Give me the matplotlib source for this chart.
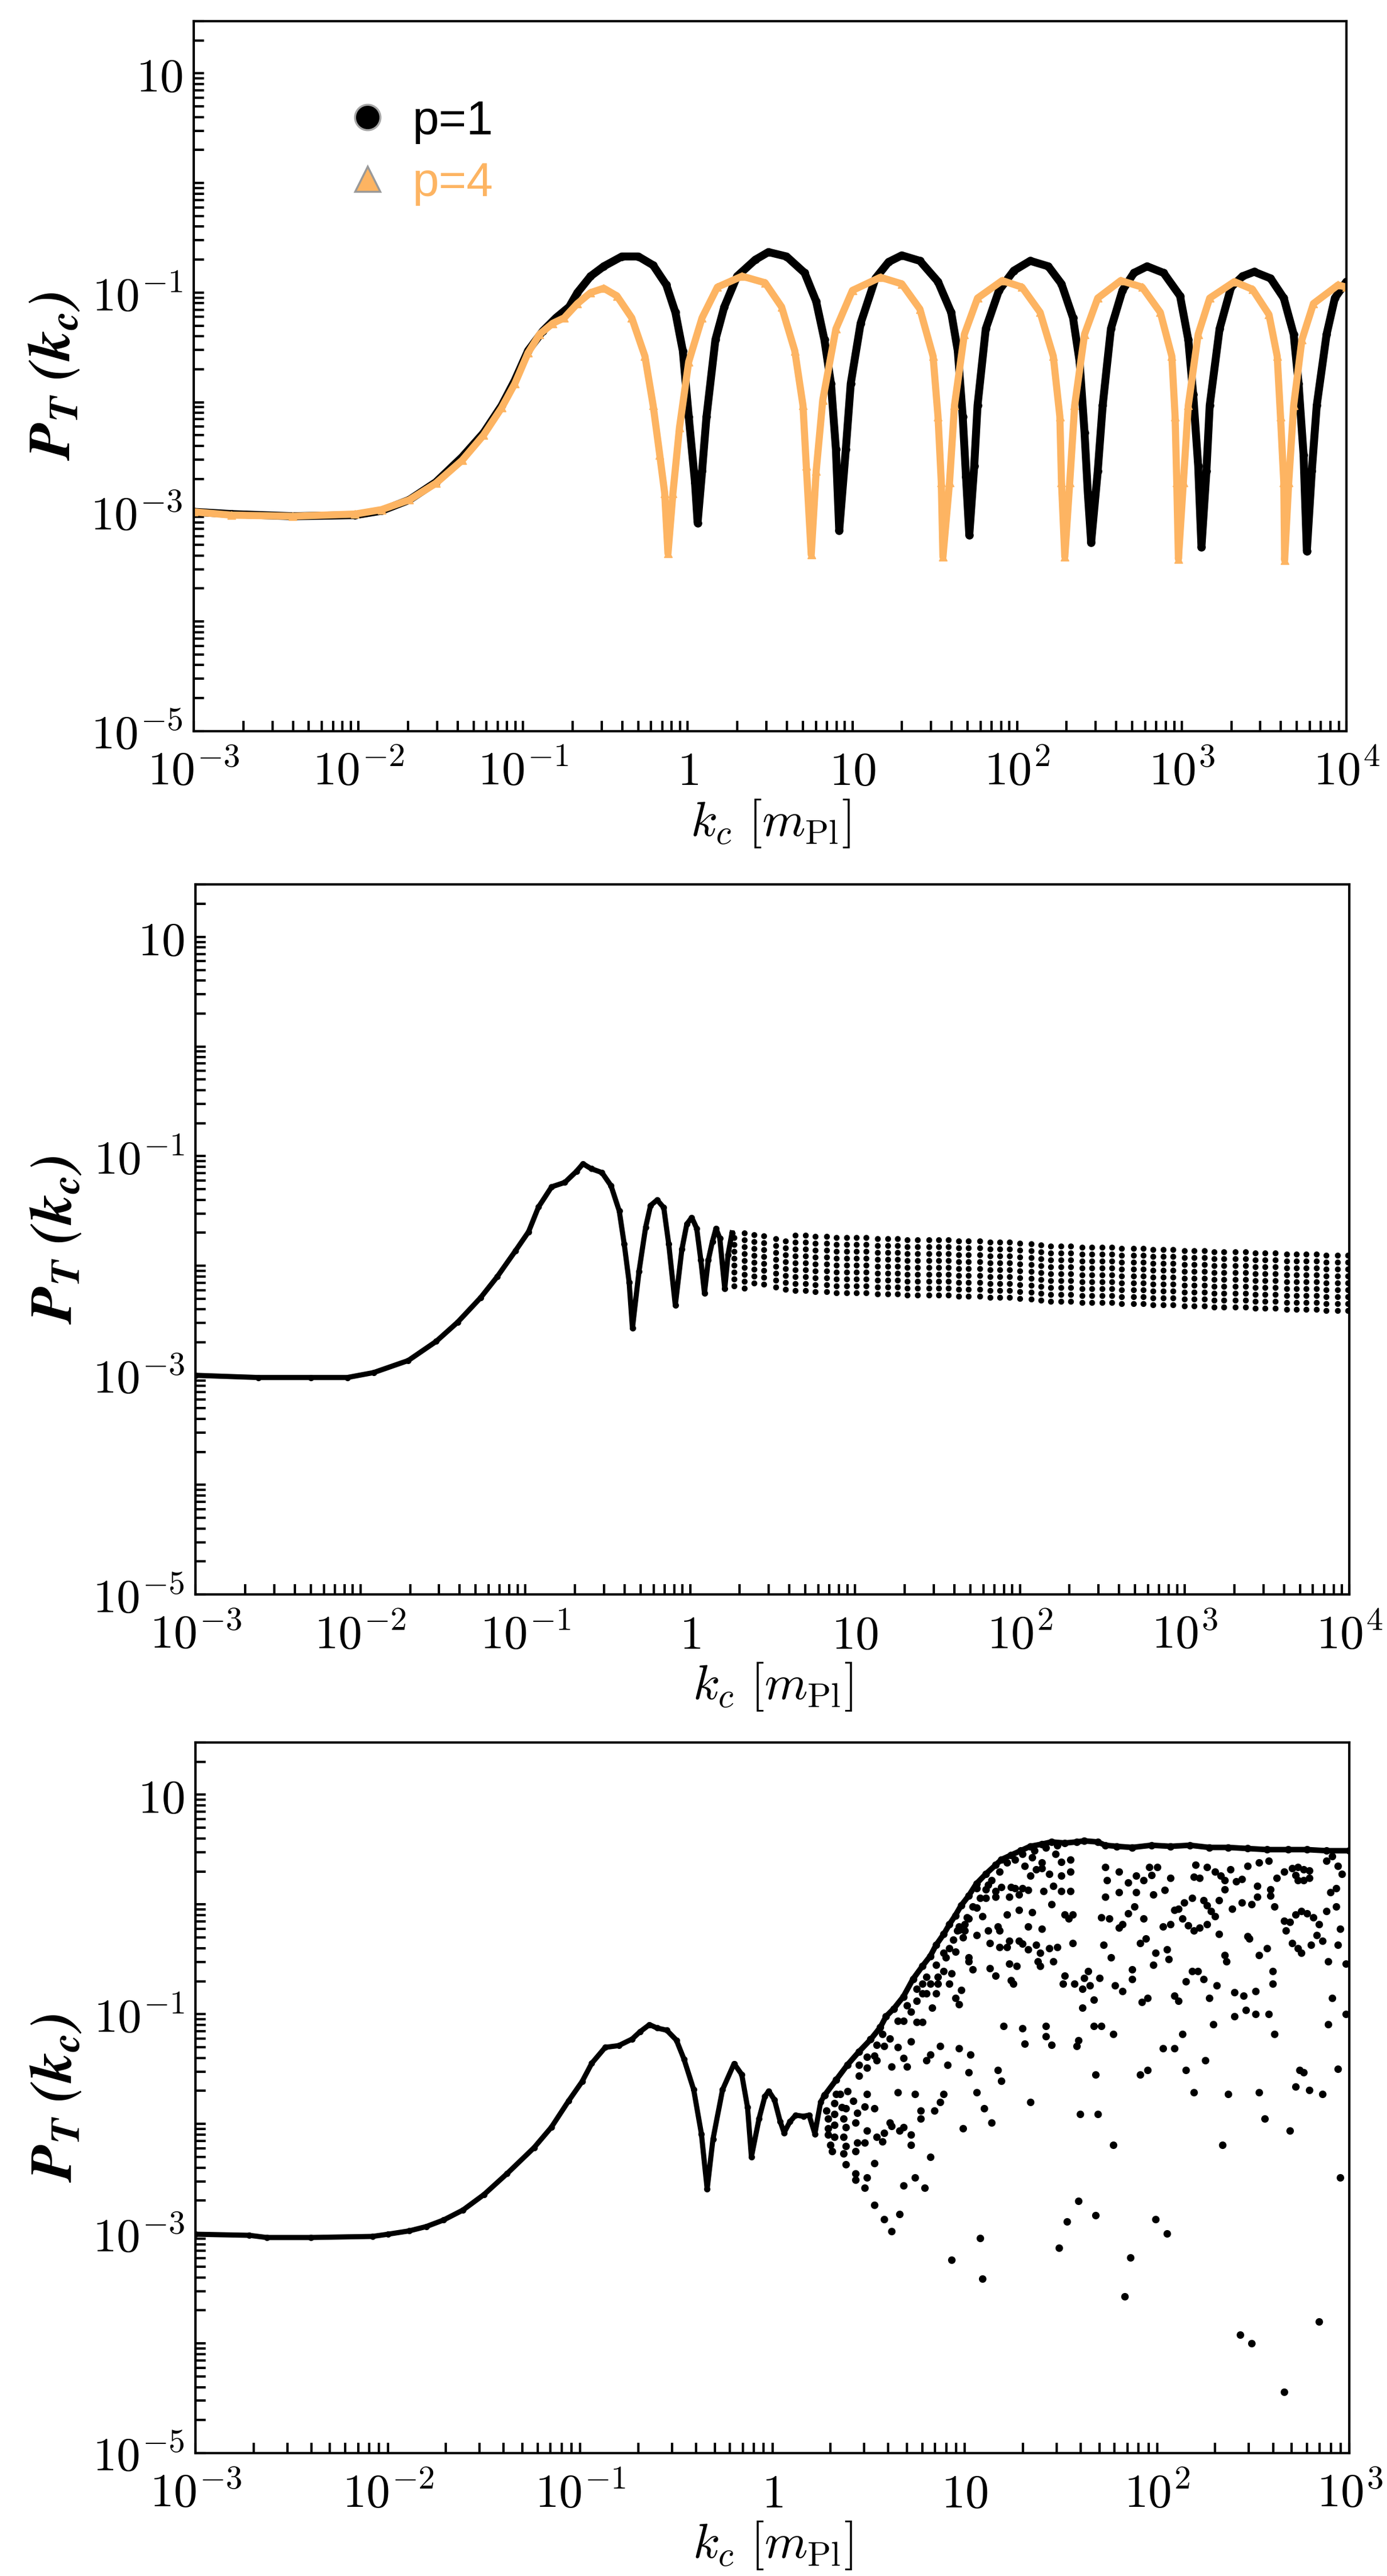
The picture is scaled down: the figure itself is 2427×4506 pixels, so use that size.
import numpy as np
import matplotlib
matplotlib.use("Agg")
import matplotlib.pyplot as plt
from matplotlib.lines import Line2D
from matplotlib.ticker import FixedLocator, FixedFormatter, LogLocator, NullFormatter

plt.rcParams["mathtext.fontset"] = "cm"

ORANGE = "#fdb462"

# ---- panel (a): (log10 k_c, log10 P_T)
A_P1 = [(-3.0, -3.0), (-2.77, -3.02), (-2.40, -3.04), (-2.02, -3.03), (-1.86, -2.99), (-1.69, -2.89),
        (-1.53, -2.73), (-1.37, -2.50), (-1.24, -2.28), (-1.13, -2.03), (-1.05, -1.80), (-0.97, -1.53),
        (-0.88, -1.35), (-0.80, -1.23), (-0.72, -1.13), (-0.67, -1.00), (-0.59, -0.85), (-0.51, -0.76),
        (-0.40, -0.67), (-0.30, -0.67), (-0.21, -0.75), (-0.13, -0.93), (-0.075, -1.18), (-0.03, -1.53),
        (0.006, -2.13), (0.044, -2.73), (0.06, -3.10), (0.087, -2.63), (0.114, -2.13), (0.168, -1.43),
        (0.222, -1.13), (0.30, -0.85), (0.41, -0.70), (0.49, -0.63), (0.60, -0.67), (0.71, -0.82),
        (0.78, -1.08), (0.83, -1.43), (0.87, -1.83), (0.90, -2.43), (0.92, -3.17), (0.96, -2.43),
        (0.99, -1.83), (1.05, -1.28), (1.14, -0.87), (1.22, -0.72), (1.30, -0.66), (1.41, -0.71),
        (1.52, -0.90), (1.60, -1.18), (1.64, -1.53), (1.67, -2.13), (1.69, -2.68), (1.71, -3.21),
        (1.74, -2.58), (1.76, -2.03), (1.81, -1.33), (1.89, -0.98), (1.98, -0.80), (2.08, -0.71),
        (2.19, -0.76), (2.27, -0.92), (2.34, -1.23), (2.38, -1.63), (2.41, -2.28), (2.43, -2.83),
        (2.45, -3.28), (2.49, -2.63), (2.52, -2.03), (2.57, -1.33), (2.64, -0.98), (2.71, -0.82),
        (2.79, -0.76), (2.89, -0.82), (2.99, -1.03), (3.04, -1.43), (3.07, -1.93), (3.10, -2.58),
        (3.12, -3.32), (3.15, -2.63), (3.17, -2.03), (3.23, -1.33), (3.30, -0.95), (3.37, -0.85),
        (3.44, -0.81), (3.54, -0.87), (3.62, -1.05), (3.68, -1.38), (3.71, -1.83), (3.74, -2.48),
        (3.76, -3.36), (3.79, -2.63), (3.82, -2.03), (3.88, -1.38), (3.93, -1.05), (4.0, -0.90)]

A_P4 = [(-3.0, -3.0), (-2.77, -3.03), (-2.40, -3.04), (-2.02, -3.02), (-1.86, -2.98), (-1.69, -2.89),
        (-1.53, -2.74), (-1.37, -2.53), (-1.24, -2.30), (-1.13, -2.05), (-1.05, -1.83), (-0.97, -1.55),
        (-0.90, -1.38), (-0.82, -1.28), (-0.75, -1.23), (-0.67, -1.10), (-0.59, -1.00), (-0.51, -0.96),
        (-0.43, -1.03), (-0.34, -1.23), (-0.26, -1.58), (-0.21, -2.03), (-0.17, -2.48), (-0.14, -2.83),
        (-0.12, -3.38), (-0.09, -2.83), (-0.05, -2.23), (0.006, -1.63), (0.087, -1.23), (0.18, -0.95),
        (0.33, -0.85), (0.47, -0.91), (0.57, -1.13), (0.65, -1.53), (0.70, -2.03), (0.72, -2.58),
        (0.75, -3.39), (0.78, -2.63), (0.82, -1.98), (0.90, -1.33), (1.00, -0.98), (1.17, -0.86),
        (1.30, -0.92), (1.41, -1.15), (1.49, -1.58), (1.52, -2.13), (1.54, -2.73), (1.55, -3.41),
        (1.59, -2.73), (1.62, -2.03), (1.68, -1.38), (1.76, -1.05), (1.91, -0.89), (2.03, -0.95),
        (2.14, -1.18), (2.22, -1.58), (2.26, -2.13), (2.27, -2.73), (2.29, -3.41), (2.32, -2.73),
        (2.35, -2.03), (2.41, -1.38), (2.49, -1.05), (2.63, -0.89), (2.76, -0.95), (2.87, -1.18),
        (2.94, -1.58), (2.96, -2.13), (2.97, -2.73), (2.98, -3.43), (3.01, -2.73), (3.04, -2.03),
        (3.10, -1.38), (3.17, -1.05), (3.32, -0.90), (3.43, -0.97), (3.53, -1.20), (3.58, -1.58),
        (3.60, -2.13), (3.62, -2.73), (3.625, -3.44), (3.65, -2.73), (3.68, -2.03), (3.73, -1.43),
        (3.80, -1.10), (3.95, -0.93), (4.0, -0.95)]

LEGEND_LABELS = ["p=1", "p=4"]

# ---- panel (b): low-k curve, then the fast-oscillation band (columns: log10 k, low, high)
B_CURVE = [(-3.0, -3.0), (-2.62, -3.02), (-2.30, -3.02), (-2.08, -3.02), (-1.92, -2.975), (-1.71, -2.865),
           (-1.54, -2.69), (-1.41, -2.515), (-1.27, -2.29), (-1.17, -2.10), (-1.06, -1.865), (-0.98, -1.69),
           (-0.92, -1.465), (-0.84, -1.28), (-0.76, -1.24), (-0.69, -1.14), (-0.65, -1.07), (-0.60, -1.115),
           (-0.535, -1.15), (-0.48, -1.27), (-0.43, -1.50), (-0.40, -1.80), (-0.37, -2.15), (-0.35, -2.57),
           (-0.31, -2.05), (-0.27, -1.65), (-0.24, -1.45), (-0.20, -1.40), (-0.16, -1.47), (-0.13, -1.80),
           (-0.09, -2.36), (-0.05, -1.85), (-0.02, -1.62), (0.01, -1.56), (0.04, -1.66), (0.065, -1.95),
           (0.087, -2.25), (0.11, -1.95), (0.135, -1.78), (0.157, -1.66), (0.18, -1.75), (0.21, -2.21),
           (0.23, -1.90), (0.254, -1.70)]

B_COLUMNS = [(0.27, -2.19, -1.69), (0.33, -2.21, -1.70), (0.39, -2.16, -1.71), (0.45, -2.17, -1.71),
             (0.52, -2.20, -1.72), (0.58, -2.22, -1.72), (0.64, -2.23, -1.72), (0.70, -2.23, -1.72),
             (0.76, -2.24, -1.72), (0.83, -2.24, -1.72), (0.89, -2.25, -1.73), (0.95, -2.25, -1.73),
             (1.01, -2.25, -1.73), (1.07, -2.25, -1.73), (1.14, -2.26, -1.73), (1.20, -2.26, -1.74),
             (1.26, -2.26, -1.74), (1.32, -2.27, -1.74), (1.38, -2.27, -1.74), (1.45, -2.27, -1.74),
             (1.51, -2.27, -1.75), (1.57, -2.27, -1.75), (1.63, -2.28, -1.75), (1.69, -2.28, -1.75),
             (1.76, -2.28, -1.76), (1.82, -2.29, -1.76), (1.88, -2.29, -1.77), (1.94, -2.29, -1.77),
             (2.00, -2.30, -1.77), (2.07, -2.31, -1.78), (2.13, -2.32, -1.79), (2.19, -2.33, -1.79),
             (2.25, -2.33, -1.80), (2.31, -2.33, -1.80), (2.38, -2.34, -1.81), (2.44, -2.34, -1.81),
             (2.50, -2.34, -1.82), (2.56, -2.34, -1.82), (2.62, -2.35, -1.82), (2.69, -2.35, -1.83),
             (2.75, -2.35, -1.83), (2.81, -2.36, -1.84), (2.87, -2.36, -1.84), (2.93, -2.36, -1.84),
             (3.00, -2.37, -1.85), (3.06, -2.37, -1.85), (3.12, -2.37, -1.85), (3.18, -2.38, -1.85),
             (3.24, -2.38, -1.85), (3.31, -2.38, -1.86), (3.37, -2.38, -1.86), (3.43, -2.39, -1.87),
             (3.49, -2.39, -1.87), (3.55, -2.39, -1.88), (3.62, -2.40, -1.88), (3.68, -2.40, -1.88),
             (3.74, -2.40, -1.89), (3.80, -2.40, -1.89), (3.86, -2.41, -1.89), (3.93, -2.41, -1.90),
             (3.99, -2.41, -1.90)]

# ---- panel (c): low-k curve, upper envelope of the scatter, scattered points
C_CURVE = [(-3.0, -3.005), (-2.72, -3.015), (-2.63, -3.035), (-2.40, -3.035), (-2.08, -3.025), (-2.00, -3.005),
           (-1.89, -2.975), (-1.80, -2.935), (-1.71, -2.875), (-1.61, -2.785), (-1.50, -2.643), (-1.38, -2.452),
           (-1.24, -2.216), (-1.15, -2.030), (-1.06, -1.789), (-0.99, -1.613), (-0.94, -1.447), (-0.87, -1.302),
           (-0.80, -1.286), (-0.73, -1.226), (-0.69, -1.161), (-0.64, -1.095), (-0.60, -1.126), (-0.55, -1.146),
           (-0.50, -1.236), (-0.46, -1.412), (-0.41, -1.688), (-0.37, -2.090), (-0.34, -2.593), (-0.31, -2.141),
           (-0.26, -1.688), (-0.20, -1.45), (-0.16, -1.55), (-0.13, -1.85), (-0.11, -2.30), (-0.07, -1.95),
           (-0.04, -1.75), (-0.02, -1.70), (0.01, -1.78), (0.04, -1.98), (0.06, -2.08), (0.09, -1.98),
           (0.12, -1.92), (0.16, -1.93), (0.19, -1.92), (0.22, -2.09), (0.25, -1.80), (0.27, -1.74)]

C_EDGE = [(0.27, -1.74), (0.33, -1.60), (0.39, -1.46), (0.45, -1.34), (0.51, -1.23), (0.56, -1.12),
          (0.59, -1.02), (0.63, -0.95), (0.68, -0.84), (0.73, -0.68), (0.78, -0.56), (0.82, -0.47),
          (0.85, -0.37), (0.89, -0.27), (0.92, -0.18), (0.95, -0.10), (0.98, -0.01), (1.02, 0.08),
          (1.06, 0.19), (1.11, 0.28), (1.16, 0.36), (1.19, 0.41), (1.24, 0.45), (1.29, 0.49),
          (1.34, 0.53), (1.40, 0.55), (1.45, 0.57), (1.52, 0.56), (1.58, 0.57), (1.62, 0.58),
          (1.69, 0.57), (1.73, 0.54), (1.79, 0.53), (1.87, 0.52), (1.97, 0.54), (2.07, 0.53),
          (2.17, 0.54), (2.27, 0.52), (2.37, 0.52), (2.47, 0.51), (2.57, 0.50), (2.68, 0.50),
          (2.78, 0.50), (2.88, 0.49), (3.0, 0.49)]

C_DOTS = [
    (1.31, 0.35), (1.35, 0.43), (1.40, 0.38), (1.44, 0.28), (1.47, 0.46), (1.50, 0.39), (1.55, 0.41),
    (1.50, 0.26), (1.55, 0.30), (1.34, 0.26), (1.37, 0.32), (1.40, 0.33),
    (1.19, 0.16), (1.24, 0.16), (1.26, 0.15), (1.30, 0.15), (1.33, 0.13), (1.41, 0.12), (1.46, 0.17),
    (1.50, 0.12), (1.55, 0.12), (1.06, 0.15), (1.12, 0.18), (1.16, 0.12), (1.11, 0.06), (1.16, 0.07),
    (1.23, 0.07), (1.28, 0.09),
    (1.45, 0.00), (1.52, -0.09), (1.56, -0.09), (1.54, -0.13), (1.35, -0.07), (1.28, -0.05), (1.22, -0.09),
    (1.06, -0.03), (1.09, -0.11), (1.02, -0.13), (1.00, -0.18), (0.97, -0.20), (0.96, -0.24), (1.00, -0.24),
    (0.99, -0.30), (1.06, -0.28), (1.12, -0.24), (1.17, -0.20), (1.18, -0.24), (1.33, -0.20), (1.40, -0.22),
    (1.13, -0.35), (1.18, -0.39), (1.22, -0.39), (1.23, -0.33), (1.28, -0.33), (1.30, -0.36), (1.33, -0.41),
    (1.37, -0.37), (1.39, -0.44), (1.44, -0.40), (1.48, -0.39), (1.56, -0.35),
    (0.92, -0.40), (0.95, -0.43), (0.90, -0.48), (1.02, -0.48), (1.02, -0.52), (1.04, -0.59), (1.13, -0.58),
    (1.16, -0.65), (1.23, -0.54), (1.27, -0.56), (1.38, -0.52), (1.39, -0.56), (1.46, -0.52),
    (0.89, -0.61), (0.93, -0.63), (0.92, -0.72), (0.86, -0.66), (0.86, -0.72), (0.98, -0.78), (0.95, -0.85),
    (0.97, -0.91), (0.85, -0.81), (0.80, -0.81), (0.82, -0.72), (0.78, -0.72), (1.24, -0.69), (1.25, -0.72),
    (1.52, -0.65), (1.51, -0.72), (1.57, -0.72), (1.64, -0.61), (1.62, -0.67), (1.65, -0.74), (1.61, -0.77),
    (1.70, -0.67), (1.78, -0.74), (1.82, -0.79), (1.67, -0.87), (1.61, -0.94),
    (1.71, -0.12), (1.75, -0.13), (1.80, -0.21), (1.82, -0.18), (1.85, -0.08), (1.88, -0.02), (1.93, -0.13),
    (2.03, -0.20), (2.07, -0.18), (2.13, -0.13), (2.16, -0.19), (2.19, -0.24), (2.22, -0.21), (2.26, -0.18),
    (2.30, -0.11), (2.28, -0.06),
    (1.73, 0.34), (1.74, 0.22), (1.80, 0.30), (1.80, 0.11), (1.73, 0.07), (1.85, 0.20), (1.89, 0.26),
    (1.93, 0.22), (1.97, 0.27), (1.98, 0.09), (1.96, 0.34), (2.00, 0.34), (2.04, 0.13), (2.07, 0.24),
    (1.89, 0.11),
    (2.09, -0.05), (2.11, -0.04), (2.14, 0.02), (2.18, 0.06), (2.24, 0.04), (2.26, -0.01), (2.32, 0.04),
    (2.35, 0.14), (2.35, 0.22), (2.38, 0.32), (2.41, 0.21), (2.44, 0.23), (2.47, 0.35), (2.52, 0.17),
    (2.52, 0.07), (2.59, 0.14), (2.59, 0.08), (2.62, 0.24), (2.61, -0.02), (2.44, 0.02), (2.39, -0.04),
    (2.49, 0.00),
    (2.20, 0.36), (2.22, 0.24), (2.26, 0.34), (2.30, 0.30), (2.33, 0.26), (2.19, 0.25),
    (2.66, 0.30), (2.70, 0.33), (2.73, 0.34), (2.76, 0.32), (2.79, 0.31), (2.72, 0.27), (2.73, 0.22),
    (2.76, 0.22), (2.79, 0.24),
    (2.66, -0.15), (2.69, -0.16), (2.67, -0.24), (2.72, -0.09), (2.75, -0.06), (2.78, -0.08), (2.81, -0.12),
    (2.84, -0.18), (2.83, -0.28), (2.86, -0.33), (2.80, -0.37), (2.75, -0.44), (2.73, -0.40), (2.70, -0.35),
    (2.88, -0.06), (2.93, -0.02), (2.95, -0.22), (2.94, -0.37), (2.89, -0.52), (2.98, -0.54), (2.90, 0.11),
    (2.93, 0.15), (2.96, 0.28), (2.94, 0.35), (2.88, 0.40), (2.91, 0.44), (2.53, 0.38), (2.58, 0.40),
    (2.35, -0.46), (2.36, -0.52), (2.53, -0.46), (2.57, -0.40), (2.47, -0.29), (2.48, -0.31), (2.32, -0.27),
    (1.99, -0.44), (2.05, -0.41), (1.98, -0.55), (2.06, -0.50), (1.87, -0.59), (1.87, -0.68), (1.91, -0.35),
    (1.94, -0.31), (1.76, -0.48), (1.72, -0.37),
    (2.15, -0.70), (2.18, -0.61), (2.21, -0.61), (2.24, -0.68), (2.31, -0.74), (2.27, -0.85), (2.09, -0.83),
    (2.11, -0.88), (1.92, -0.89), (1.95, -0.85), (2.40, -0.80), (2.45, -0.83), (2.51, -0.79), (2.60, -0.61),
    (2.60, -0.72), (2.46, -0.96), (2.51, -1.00), (2.58, -1.00), (2.40, -1.02), (2.29, -1.09), (2.13, -1.18),
    (2.61, -1.18), (2.89, -1.09), (2.91, -0.85), (2.98, -1.00),
    (1.20, -1.11), (1.30, -1.13), (1.42, -1.11), (1.42, -1.20), (1.45, -1.28), (1.31, -1.27), (1.59, -1.24),
    (1.58, -1.29), (1.67, -1.11), (1.71, -1.11), (1.77, -1.18), (2.03, -1.31), (2.09, -1.31), (2.25, -1.42),
    (2.15, -1.51), (1.95, -1.51), (1.91, -1.55), (1.68, -1.55), (1.17, -1.51), (1.19, -1.61), (1.02, -1.53),
    (1.03, -1.37), (0.97, -1.31), (0.87, -1.29), (0.91, -1.46), (0.82, -1.37), (0.80, -1.42), (0.70, -1.48),
    (2.74, -1.51), (2.76, -1.53), (2.94, -1.50), (2.72, -1.66),
    (0.45, -1.46), (0.49, -1.39), (0.54, -1.28), (0.57, -1.18), (0.65, -1.06), (0.70, -0.92), (0.75, -0.77),
    (0.80, -0.66), (0.85, -0.55), (0.89, -0.44), (0.94, -0.32), (0.97, -0.23), (1.01, -0.12), (1.04, -0.02),
    (1.08, 0.06), (1.11, 0.14), (1.14, 0.22), (1.18, 0.30), (1.22, 0.38), (1.26, 0.41), (1.30, 0.46),
    (1.36, 0.49), (1.42, 0.52), (1.48, 0.54),
    (0.53, -1.38), (0.58, -1.29), (0.61, -1.22), (0.65, -1.30), (0.72, -1.25), (0.75, -1.07), (0.78, -1.07),
    (0.83, -0.94), (0.75, -0.88), (0.72, -0.98), (0.68, -1.06), (0.78, -0.81), (0.45, -1.56), (0.49, -1.49),
    (0.54, -1.42), (0.62, -1.48), (0.68, -1.40),
    (0.29, -2.04), (0.29, -2.10), (0.30, -2.19), (0.31, -2.25), (0.32, -2.12), (0.32, -2.01), (0.32, -1.91),
    (0.32, -1.81), (0.28, -1.88), (0.29, -1.95), (0.33, -1.73), (0.35, -1.73), (0.36, -1.85), (0.37, -1.95),
    (0.37, -2.12), (0.37, -2.27), (0.38, -2.03), (0.38, -2.20), (0.38, -1.86), (0.38, -2.37), (0.39, -1.70),
    (0.42, -1.79), (0.43, -1.99), (0.43, -2.25), (0.43, -2.45), (0.43, -2.51), (0.44, -1.90), (0.44, -2.17),
    (0.48, -1.84), (0.48, -2.17), (0.49, -2.06), (0.49, -1.73), (0.49, -2.49), (0.48, -2.58), (0.53, -1.86),
    (0.53, -2.36), (0.53, -2.74), (0.54, -2.12), (0.57, -2.16), (0.58, -2.08), (0.58, -2.87), (0.61, -1.99),
    (0.62, -2.02), (0.62, -2.98), (0.65, -1.71), (0.66, -2.06), (0.66, -2.82), (0.68, -2.03), (0.68, -2.56),
    (0.72, -2.10), (0.72, -2.19), (0.74, -1.73), (0.74, -2.49), (0.77, -1.88), (0.77, -1.95), (0.79, -2.58),
    (0.82, -2.30), (0.84, -1.88), (0.87, -1.80), (0.89, -1.73), (0.93, -3.24), (0.99, -2.04), (1.06, -1.71),
    (1.08, -3.04), (1.09, -3.41), (1.10, -1.86), (1.14, -1.99), (1.34, -1.80), (1.49, -3.13), (1.53, -2.89),
    (1.59, -2.70), (1.60, -1.91), (1.68, -2.83), (1.69, -1.91), (1.77, -2.19), (1.83, -3.57), (1.86, -3.22),
    (1.99, -2.87), (2.05, -3.00), (2.19, -1.71), (2.34, -2.19), (2.37, -1.73), (2.43, -3.92), (2.49, -4.00),
    (2.53, -1.71), (2.56, -1.95), (2.66, -4.44), (2.69, -2.06), (2.79, -1.69), (2.84, -3.80), (2.86, -1.73),
    (2.95, -2.49),
]

X_TICKS_AB = [1e-3, 1e-2, 1e-1, 1, 10, 1e2, 1e3, 1e4]
X_LABELS_AB = [r"$10^{-3}$", r"$10^{-2}$", r"$10^{-1}$", r"$1$", r"$10$", r"$10^{2}$", r"$10^{3}$", r"$10^{4}$"]
X_TICKS_C = [1e-3, 1e-2, 1e-1, 1, 10, 1e2, 1e3]
X_LABELS_C = X_LABELS_AB[:7]
Y_TICKS = [1e-5, 1e-3, 1e-1, 10]
Y_LABELS = [r"$10^{-5}$", r"$10^{-3}$", r"$10^{-1}$", r"$10$"]


def pts(pairs):
    a = np.array(pairs, dtype=float).T
    return np.power(10.0, a)


def style(ax, xmax, xticks, xlabels):
    ax.set_xscale("log")
    ax.set_yscale("log")
    ax.set_xlim(1e-3, xmax)
    ax.set_ylim(1e-5, 30)
    ax.xaxis.set_major_locator(FixedLocator(xticks))
    ax.xaxis.set_major_formatter(FixedFormatter(xlabels))
    ax.xaxis.set_minor_locator(LogLocator(base=10, subs=np.arange(2, 10), numticks=100))
    ax.xaxis.set_minor_formatter(NullFormatter())
    ax.yaxis.set_major_locator(FixedLocator(Y_TICKS))
    ax.yaxis.set_major_formatter(FixedFormatter(Y_LABELS))
    ax.yaxis.set_minor_locator(LogLocator(base=10, subs=np.arange(1, 10), numticks=100))
    ax.yaxis.set_minor_formatter(NullFormatter())
    for which in ("major", "minor"):
        ax.tick_params(axis="both", which=which, direction="in", length=13, width=3,
                       top=False, right=False, labelsize=60)
    ax.tick_params(axis="x", which="major", pad=22)
    ax.tick_params(axis="y", which="major", pad=14)
    for sp in ax.spines.values():
        sp.set_linewidth(3)
    ax.set_xlabel(r"$k_c\ [m_{\rm Pl}]$", fontsize=62, labelpad=3)
    ax.set_ylabel(r"$\mathbfit{P_T\ (k_c)}$", fontsize=74, labelpad=10, math_fontfamily="stix")


fig = plt.figure(figsize=(24.27, 45.06), dpi=100)
ax1 = fig.add_axes([0.1397, 0.7162, 0.831, 0.2756])
ax2 = fig.add_axes([0.141, 0.381, 0.832, 0.2756])
ax3 = fig.add_axes([0.141, 0.0477, 0.832, 0.2759])

# (a)
k, p = pts(A_P1)
ax1.plot(k, p, "-", color="k", lw=10, marker="o", ms=9.5, solid_capstyle="round")
k, p = pts(A_P4)
ax1.plot(k, p, "-", color=ORANGE, lw=9, marker="^", ms=9.5, solid_capstyle="round")
handles = [Line2D([], [], ls="", marker="o", ms=32, mfc="k", mec="0.65", mew=2.5),
           Line2D([], [], ls="", marker="^", ms=32, mfc=ORANGE, mec="0.6", mew=2.5)]
ax1.legend(handles, LEGEND_LABELS, loc="upper left", bbox_to_anchor=(0.130, 0.890), frameon=False,
           prop={"family": "Liberation Sans", "size": 60}, labelcolor=["k", ORANGE],
           handlelength=1.0, handletextpad=0.45, labelspacing=0.36, borderpad=0, borderaxespad=0)
style(ax1, 1e4, X_TICKS_AB, X_LABELS_AB)

# (b)
k, p = pts(B_CURVE)
ax2.plot(k, p, "-", color="k", lw=6.5, marker="o", ms=7)
cols = np.array(B_COLUMNS, dtype=float).T
vl = ax2.vlines(10 ** cols[0], 10 ** cols[1], 10 ** cols[2], colors="k", lw=7.5,
                linestyles=[(0, (0.01, 1.15))])
vl.set_capstyle("round")
style(ax2, 1e4, X_TICKS_AB, X_LABELS_AB)

# (c)
k, p = pts(C_CURVE)
ax3.plot(k, p, "-", color="k", lw=6.5, marker="o", ms=7)
k, p = pts(C_EDGE)
ax3.plot(k, p, "-", color="k", lw=7, marker="o", ms=8.5)
k, p = pts(C_DOTS)
ax3.plot(k, p, ls="", color="k", marker="o", ms=8.5)
style(ax3, 1e3, X_TICKS_C, X_LABELS_C)

fig.savefig("out.png", dpi=100)
